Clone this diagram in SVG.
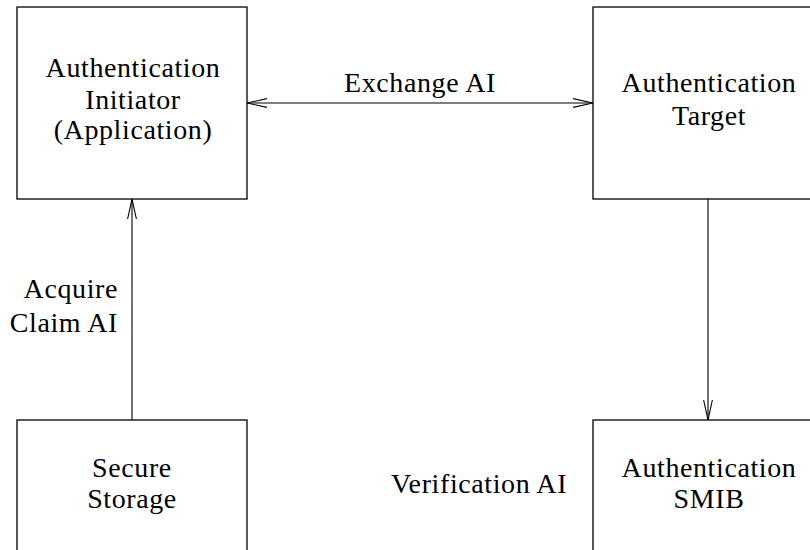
<svg xmlns="http://www.w3.org/2000/svg" width="810" height="550" viewBox="0 0 810 550">
<style>
.box{fill:#fff;stroke:#000;stroke-width:1.3}
.t{font-family:"Liberation Serif","Times New Roman",serif;font-size:28px;letter-spacing:0.6px;fill:#000;text-anchor:middle}
.conn{stroke:#000;stroke-width:1.1;fill:none}
</style>
<defs>
<marker id="ah" viewBox="0 0 20 10" refX="20" refY="5" markerWidth="20" markerHeight="10" markerUnits="userSpaceOnUse" orient="auto-start-reverse">
<path d="M0,0.6 L20,5 L0,9.4" fill="none" stroke="#000" stroke-width="1.1"/>
</marker>
</defs>
<rect width="810" height="550" fill="#fff"/>
<g id="initiator">
<rect class="box" x="17" y="7" width="230" height="192"/>
<text class="t" x="133" y="77">Authentication</text>
<text class="t" x="133" y="109">Initiator</text>
<text class="t" x="133" y="139">(Application)</text>
</g>
<g id="target">
<rect class="box" x="593" y="7" width="240" height="192"/>
<text class="t" x="709" y="92">Authentication</text>
<text class="t" x="709" y="125">Target</text>
</g>
<g id="storage">
<rect class="box" x="17" y="420" width="230" height="150"/>
<text class="t" x="132" y="477">Secure</text>
<text class="t" x="132" y="508">Storage</text>
</g>
<g id="smib">
<rect class="box" x="593" y="420" width="240" height="150"/>
<text class="t" x="709" y="477">Authentication</text>
<text class="t" x="709" y="508">SMIB</text>
</g>
<g id="connectors">
<line class="conn" x1="247" y1="103" x2="593" y2="103" marker-start="url(#ah)" marker-end="url(#ah)"/>
<text class="t" x="420" y="92">Exchange AI</text>
<line class="conn" x1="132" y1="420" x2="132" y2="199" marker-end="url(#ah)"/>
<text class="t" x="118" y="298" style="text-anchor:end">Acquire</text>
<text class="t" x="118" y="332" style="text-anchor:end">Claim AI</text>
<line class="conn" x1="708" y1="199" x2="708" y2="420" marker-end="url(#ah)"/>
<text class="t" x="479" y="493">Verification AI</text>
</g>
</svg>
